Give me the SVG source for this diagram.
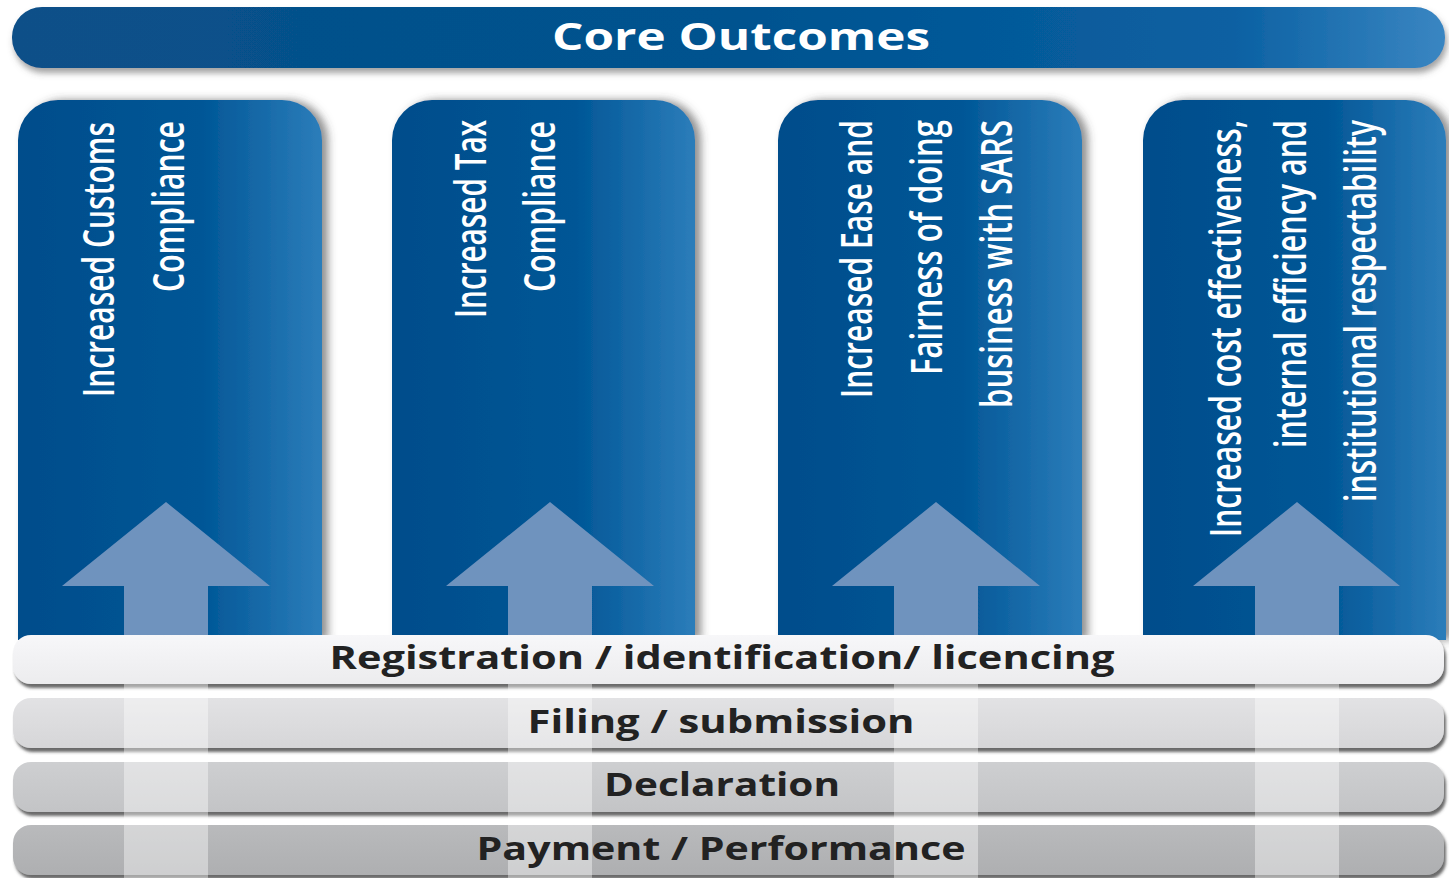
<svg xmlns="http://www.w3.org/2000/svg" width="1449" height="878" viewBox="0 0 1449 878">
  <defs>
    <linearGradient id="gTop" x1="0" y1="0" x2="1" y2="0">
      <stop offset="0" stop-color="#0a5088"/>
      <stop offset="0.5" stop-color="#00528f"/>
      <stop offset="0.85" stop-color="#0a60a2"/>
      <stop offset="1" stop-color="#3a86c2"/>
    </linearGradient>
    <linearGradient id="gCol" x1="0" y1="0" x2="1" y2="0">
      <stop offset="0" stop-color="#004d8b"/>
      <stop offset="0.6" stop-color="#005696"/>
      <stop offset="1" stop-color="#2c7dba"/>
    </linearGradient>
    <linearGradient id="gB1" x1="0" y1="0" x2="0" y2="1">
      <stop offset="0" stop-color="#f7f7f9"/>
      <stop offset="1" stop-color="#ececee"/>
    </linearGradient>
    <linearGradient id="gB2" x1="0" y1="0" x2="0" y2="1">
      <stop offset="0" stop-color="#e2e2e4"/>
      <stop offset="1" stop-color="#d6d6d8"/>
    </linearGradient>
    <linearGradient id="gB3" x1="0" y1="0" x2="0" y2="1">
      <stop offset="0" stop-color="#cecfd1"/>
      <stop offset="1" stop-color="#c3c4c6"/>
    </linearGradient>
    <linearGradient id="gB4" x1="0" y1="0" x2="0" y2="1">
      <stop offset="0" stop-color="#b9babc"/>
      <stop offset="1" stop-color="#aeafb1"/>
    </linearGradient>
    <filter id="fTop" x="-5%" y="-30%" width="110%" height="180%">
      <feDropShadow dx="2" dy="5" stdDeviation="3" flood-color="#555" flood-opacity="0.55"/>
    </filter>
    <filter id="fCol" x="-10%" y="-10%" width="125%" height="120%">
      <feDropShadow dx="6" dy="0" stdDeviation="4" flood-color="#444" flood-opacity="0.6"/>
    </filter>
    <filter id="fBand" x="-5%" y="-30%" width="110%" height="180%">
      <feDropShadow dx="2" dy="4" stdDeviation="1.5" flood-color="#444" flood-opacity="0.8"/>
    </filter>
    <style>
      .col { fill: url(#gCol); filter: url(#fCol); }
      .arrow { fill: #6f93be; }
      .shaft { fill: #ffffff; fill-opacity: 0.4; }
      .vt { font-family: "Open Sans", "Liberation Sans", sans-serif; font-weight: 600; font-size: 44px; fill: #ffffff; }
      .bt { font-family: "Open Sans", "Liberation Sans", sans-serif; font-weight: bold; font-size: 32px; fill: #222222; text-anchor: middle; }
      .tt { font-family: "Open Sans", "Liberation Sans", sans-serif; font-weight: bold; font-size: 38px; fill: #ffffff; text-anchor: middle; }
      .band { filter: url(#fBand); }
    </style>
  </defs>
  <rect width="1449" height="878" fill="#ffffff"/>

  <g id="core-outcomes">
    <rect x="12" y="7" width="1433" height="61" rx="30" fill="url(#gTop)" filter="url(#fTop)"/>
    <text class="tt" x="741" y="50" textLength="378" lengthAdjust="spacingAndGlyphs">Core Outcomes</text>
  </g>

  <g id="col-customs">
    <path class="col" d="M18,640 V140 A40,40 0 0 1 58,100 H282 A40,40 0 0 1 322,140 V640 Z"/>
    <polygon class="arrow" points="166,502 270,586 208,586 208,640 124,640 124,586 62,586"/>
    <text class="vt" transform="translate(114,397) rotate(-90)" textLength="275" lengthAdjust="spacingAndGlyphs">Increased Customs</text>
    <text class="vt" transform="translate(184,292) rotate(-90)" textLength="171" lengthAdjust="spacingAndGlyphs">Compliance</text>
  </g>

  <g id="col-tax">
    <path class="col" d="M392,640 V140 A40,40 0 0 1 432,100 H655 A40,40 0 0 1 695,140 V640 Z"/>
    <polygon class="arrow" points="550,502 654,586 592,586 592,640 508,640 508,586 446,586"/>
    <text class="vt" transform="translate(486,318) rotate(-90)" textLength="198" lengthAdjust="spacingAndGlyphs">Increased Tax</text>
    <text class="vt" transform="translate(555,292) rotate(-90)" textLength="171" lengthAdjust="spacingAndGlyphs">Compliance</text>
  </g>

  <g id="col-ease">
    <path class="col" d="M778,640 V140 A40,40 0 0 1 818,100 H1042 A40,40 0 0 1 1082,140 V640 Z"/>
    <polygon class="arrow" points="936,502 1040,586 978,586 978,640 894,640 894,586 832,586"/>
    <text class="vt" transform="translate(872,398) rotate(-90)" textLength="278" lengthAdjust="spacingAndGlyphs">Increased Ease and</text>
    <text class="vt" transform="translate(942,375) rotate(-90)" textLength="255" lengthAdjust="spacingAndGlyphs">Fairness of doing</text>
    <text class="vt" transform="translate(1012,408) rotate(-90)" textLength="288" lengthAdjust="spacingAndGlyphs">business with SARS</text>
  </g>

  <g id="col-cost">
    <path class="col" d="M1143,640 V140 A40,40 0 0 1 1183,100 H1406 A40,40 0 0 1 1446,140 V640 Z"/>
    <polygon class="arrow" points="1297,502 1400,586 1339,586 1339,640 1255,640 1255,586 1193,586"/>
    <text class="vt" transform="translate(1241,537) rotate(-90)" textLength="417" lengthAdjust="spacingAndGlyphs">Increased cost effectiveness,</text>
    <text class="vt" transform="translate(1306,448) rotate(-90)" textLength="328" lengthAdjust="spacingAndGlyphs">internal efficiency and</text>
    <text class="vt" transform="translate(1376,502) rotate(-90)" textLength="382" lengthAdjust="spacingAndGlyphs">institutional respectability</text>
  </g>

  <g id="band-payment">
    <rect class="band" x="13" y="825" width="1431" height="50" rx="18" fill="url(#gB4)"/>
  </g>
  <g id="band-declaration">
    <rect class="band" x="13" y="762" width="1431" height="50" rx="18" fill="url(#gB3)"/>
  </g>
  <g id="band-filing">
    <rect class="band" x="13" y="698" width="1431" height="50" rx="18" fill="url(#gB2)"/>
  </g>
  <g id="band-registration">
    <rect class="band" x="13" y="635" width="1431" height="49" rx="18" fill="url(#gB1)"/>
  </g>

  <g id="shafts">
    <rect class="shaft" x="124" y="684" width="84" height="194"/>
    <rect class="shaft" x="508" y="684" width="84" height="194"/>
    <rect class="shaft" x="894" y="684" width="84" height="194"/>
    <rect class="shaft" x="1255" y="684" width="84" height="194"/>
  </g>

  <g id="band-labels">
    <text class="bt" x="722" y="669" textLength="785" lengthAdjust="spacingAndGlyphs">Registration / identification/ licencing</text>
    <text class="bt" x="721" y="733" textLength="387" lengthAdjust="spacingAndGlyphs">Filing / submission</text>
    <text class="bt" x="722" y="796" textLength="236" lengthAdjust="spacingAndGlyphs">Declaration</text>
    <text class="bt" x="721" y="860" textLength="489" lengthAdjust="spacingAndGlyphs">Payment / Performance</text>
  </g>

  <g id="connectors"></g>
</svg>
